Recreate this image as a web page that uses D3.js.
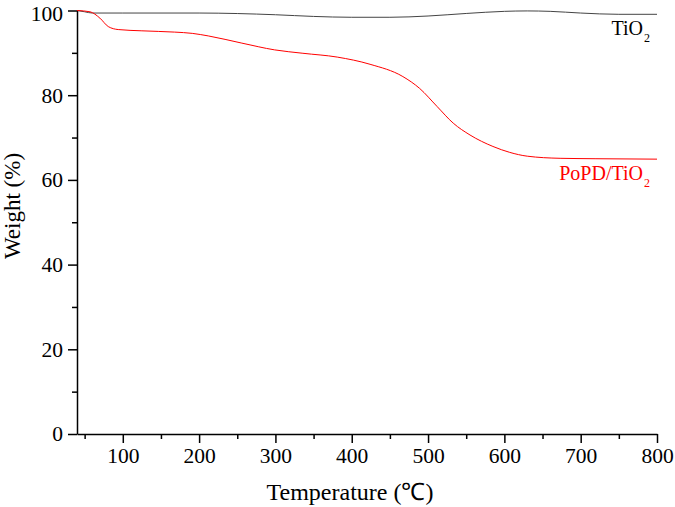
<!DOCTYPE html>
<html>
<head>
<meta charset="utf-8">
<script src="https://cdn.jsdelivr.net/npm/d3@7"></script>
<style>
  body { margin: 0; background: #fff; }
  svg { display: block; }
  .axis text { font-family: "Liberation Serif", "Times New Roman", serif; font-size: 21.5px; fill: #000; }
  .axis path, .axis line { stroke: #000; stroke-width: 1.5px; }
</style>
</head>
<body>
<svg id="chart"></svg>
<script>
// TGA curves
const tio2Temp   = [40, 50, 60, 100, 200, 300, 350, 400, 450, 500, 550, 600, 630, 660, 700, 750, 800];
const tio2Weight = [100, 99.7, 99.4, 99.4, 99.4, 99.0, 98.6, 98.4, 98.4, 98.7, 99.3, 99.8, 99.9, 99.8, 99.4, 99.1, 99.1];

const popdTemp   = [40, 57, 70, 81, 94, 125, 168, 191, 212, 256, 299, 336, 381, 424, 467, 489, 512, 533, 555, 585, 607, 630, 673, 720, 800];
const popdWeight = [100, 99.7, 98.2, 96.2, 95.5, 95.2, 94.9, 94.6, 94.0, 92.3, 90.7, 89.9, 89.0, 87.3, 84.4, 81.6, 77.3, 73.4, 70.6, 67.9, 66.5, 65.6, 65.1, 65.0, 64.9];

const xTicks = [100, 200, 300, 400, 500, 600, 700, 800];
const xMinor = [50, 150, 250, 350, 450, 550, 650, 750];
const yTicks = [0, 20, 40, 60, 80, 100];
const yMinor = [10, 30, 50, 70, 90];

const series = [
  {name: 'TiO2', temp: tio2Temp, weight: tio2Weight, color: '#444', textColor: '#000', label: 'TiO', labelY: 99.1},
  {name: 'PoPD/TiO2', temp: popdTemp, weight: popdWeight, color: '#ff0000', textColor: '#ff0000', label: 'PoPD/TiO', labelY: 64.9}
];

const width = 675, height = 507;
const margin = {top: 10.5, right: 18, bottom: 73, left: 77};
const serif = '"Liberation Serif", "Times New Roman", serif';

const svg = d3.select('#chart')
  .attr('width', width)
  .attr('height', height);

const xScale = d3.scaleLinear().domain([40, 800]).range([margin.left, width - margin.right]);
const yScale = d3.scaleLinear().domain([0, 100]).range([height - margin.bottom, margin.top]);

// minor ticks
svg.append('g')
  .attr('class', 'axis')
  .attr('transform', `translate(0,${yScale(0)})`)
  .call(d3.axisBottom(xScale).tickValues(xMinor).tickSize(5).tickFormat(''))
  .call(g => g.select('.domain').remove());

svg.append('g')
  .attr('class', 'axis')
  .attr('transform', `translate(${xScale(40)},0)`)
  .call(d3.axisLeft(yScale).tickValues(yMinor).tickSize(5).tickFormat(''))
  .call(g => g.select('.domain').remove());

// major axes
svg.append('g')
  .attr('class', 'axis')
  .attr('transform', `translate(0,${yScale(0)})`)
  .call(d3.axisBottom(xScale).tickValues(xTicks).tickSize(9).tickPadding(5).tickSizeOuter(0));

svg.append('g')
  .attr('class', 'axis')
  .attr('transform', `translate(${xScale(40)},0)`)
  .call(d3.axisLeft(yScale).tickValues(yTicks).tickSize(9).tickPadding(5).tickSizeOuter(0))
  .call(g => g.selectAll('.tick text').filter(d => d === 100).attr('dy', '0.45em'));

const line = d3.line()
  .x(d => xScale(d[0]))
  .y(d => yScale(d[1]))
  .curve(d3.curveMonotoneX);

series.forEach(s => {
  svg.append('path')
    .datum(d3.zip(s.temp, s.weight))
    .attr('fill', 'none')
    .attr('stroke', s.color)
    .attr('stroke-width', 1)
    .attr('d', line);

  svg.append('text')
    .attr('x', xScale(800) - 14)
    .attr('y', yScale(s.labelY) + 21)
    .attr('text-anchor', 'end')
    .style('font-family', serif)
    .style('font-size', '20px')
    .attr('fill', s.textColor)
    .text(s.label);
  svg.append('text')
    .attr('x', xScale(800) - 13)
    .attr('y', yScale(s.labelY) + 28)
    .style('font-family', serif)
    .style('font-size', '12px')
    .attr('fill', s.textColor)
    .text('2');
});

// axis titles
svg.append('text')
  .attr('x', 350)
  .attr('y', 500)
  .attr('text-anchor', 'middle')
  .style('font-family', serif)
  .style('font-size', '24px')
  .text('Temperature (℃)');

svg.append('text')
  .attr('transform', 'translate(20,206) rotate(-90)')
  .attr('text-anchor', 'middle')
  .style('font-family', serif)
  .style('font-size', '23px')
  .text('Weight (%)');
</script>
</body>
</html>
